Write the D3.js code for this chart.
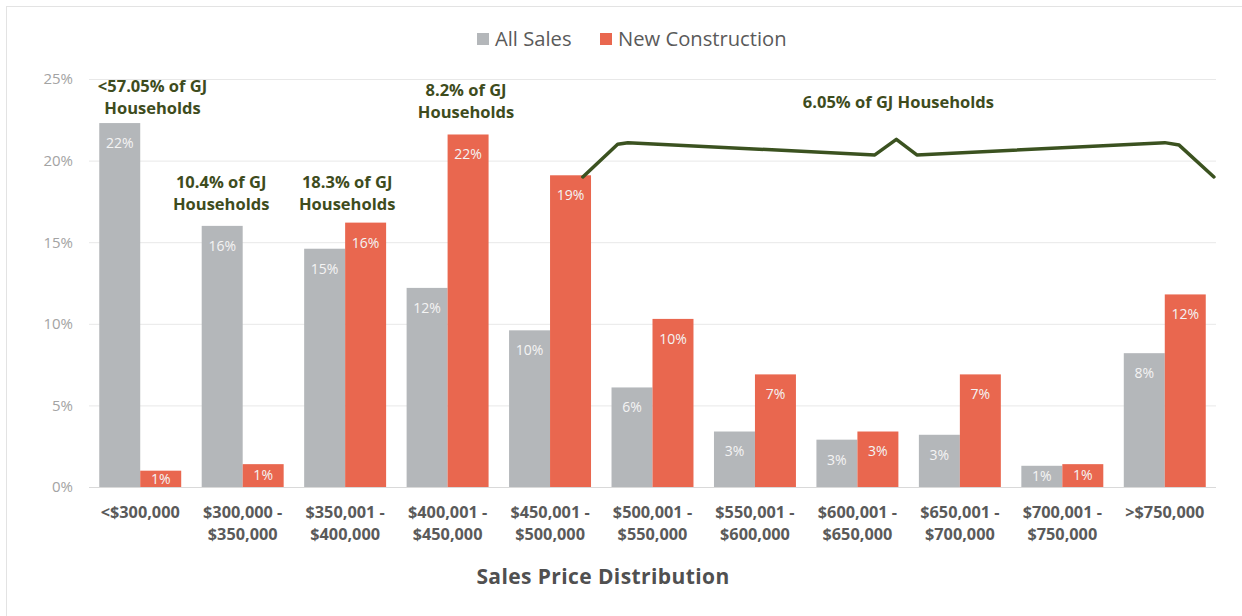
<!DOCTYPE html>
<html>
<head>
<meta charset="utf-8">
<script src="https://cdn.jsdelivr.net/npm/d3@7"></script>
<style>
  body { margin: 0; background: #fff; }
  svg text { font-family: "Open Sans", "Noto Sans", sans-serif; }
</style>
</head>
<body>
<svg id="chart" width="1242" height="616"></svg>
<script>
// data
const categories = ['<$300,000', '$300,000 - $350,000', '$350,001 - $400,000', '$400,001 - $450,000',
  '$450,001 - $500,000', '$500,001 - $550,000', '$550,001 - $600,000', '$600,001 - $650,000',
  '$650,001 - $700,000', '$700,001 - $750,000', '>$750,000'];
const catLines = [['<$300,000'], ['$300,000 -', '$350,000'], ['$350,001 -', '$400,000'], ['$400,001 -', '$450,000'],
  ['$450,001 -', '$500,000'], ['$500,001 -', '$550,000'], ['$550,001 -', '$600,000'], ['$600,001 -', '$650,000'],
  ['$650,001 -', '$700,000'], ['$700,001 -', '$750,000'], ['>$750,000']];
const allSales = [22.3, 16.0, 14.6, 12.2, 9.6, 6.1, 3.4, 2.9, 3.2, 1.3, 8.2];
const newConstruction = [1.0, 1.4, 16.2, 21.6, 19.1, 10.3, 6.9, 3.4, 6.9, 1.4, 11.8];
const seriesNames = ['All Sales', 'New Construction'];
const yTicks = [0, 5, 10, 15, 20, 25];

// annotations: text lines, anchored at (category index, percent)
const annoText = [['<57.05% of GJ', 'Households'], ['10.4% of GJ', 'Households'], ['18.3% of GJ', 'Households'],
  ['8.2% of GJ', 'Households'], ['6.05% of GJ Households']];
const annoCat = [0.12, 0.79, 2.02, 3.18, 7.40];
const annoPct = [24.6, 18.7, 18.7, 24.3, 23.6];

// bracket over the upper price ranges (category index, percent)
const bracketCat = [4.32, 4.66, 4.76, 7.17, 7.38, 7.58, 10.0, 10.14, 10.48];
const bracketPct = [19.0, 21.0, 21.1, 20.35, 21.3, 20.35, 21.1, 20.95, 19.0];

const colors = { 'All Sales': '#b4b7ba', 'New Construction': '#e9674f' };
const annoColor = '#3e4c1d';

const svg = d3.select('#chart');

// frame
svg.append('rect').attr('x', 6.5).attr('y', 6.5).attr('width', 1240).attr('height', 620)
  .attr('fill', 'none').attr('stroke', '#e3e3e3');

const x0 = d3.scaleBand().domain(categories).range([89, 1216]).paddingInner(0.2).paddingOuter(0.1);
const x1 = d3.scaleBand().domain(seriesNames).range([0, x0.bandwidth()]);
const y = d3.scaleLinear([0, 25], [487, 79]);
const catX = i => x0(categories[0]) + x0.bandwidth() / 2 + i * x0.step();

// gridlines
svg.append('g').attr('class', 'grid')
  .attr('transform', 'translate(89,0)')
  .call(d3.axisLeft(y).tickValues(yTicks).tickSize(-(1216 - 89)).tickFormat(''))
  .call(g => g.select('.domain').remove())
  .call(g => g.selectAll('line').attr('stroke', d => d === 0 ? '#d9d9d9' : '#e8e8e8'));

// y axis labels
svg.append('g').attr('class', 'y axis')
  .attr('transform', 'translate(89,0)')
  .call(d3.axisLeft(y).tickValues(yTicks).tickSize(0).tickPadding(16).tickFormat(d => d + '%'))
  .call(g => g.select('.domain').remove())
  .call(g => g.selectAll('text').attr('fill', '#a3a3a3').style('font-size', '15px'));

// bars
const rows = categories.map((c, i) => ({ cat: c, vals: [allSales[i], newConstruction[i]] }));
const groups = svg.append('g').attr('class', 'bars').selectAll('g').data(rows).join('g')
  .attr('transform', d => `translate(${x0(d.cat)},0)`);

const cells = groups.selectAll('g').data(d => d.vals.map((v, k) => ({ key: seriesNames[k], v }))).join('g');
cells.append('rect')
  .attr('x', d => x1(d.key)).attr('width', x1.bandwidth())
  .attr('y', d => y(d.v)).attr('height', d => y(0) - y(d.v))
  .attr('fill', d => colors[d.key]);
cells.append('text')
  .attr('x', d => x1(d.key) + x1.bandwidth() / 2)
  .attr('y', d => Math.min(y(d.v) + 20, (y(d.v) + y(0)) / 2))
  .attr('dy', '0.35em')
  .attr('text-anchor', 'middle')
  .attr('fill', '#f4f4f4')
  .style('font-size', '14px')
  .text(d => Math.round(d.v) + '%');

// x axis labels
const xAxis = svg.append('g').attr('class', 'x axis')
  .attr('transform', 'translate(0,487)')
  .call(d3.axisBottom(x0).tickSize(0).tickFormat(''))
  .call(g => g.select('.domain').remove());
xAxis.selectAll('.tick').append('text')
  .attr('text-anchor', 'middle')
  .attr('fill', '#5a5a5a')
  .style('font-size', '16.3px').style('font-weight', 700)
  .each(function (d) {
    const lines = catLines[categories.indexOf(d)];
    d3.select(this).selectAll('tspan').data(lines).join('tspan')
      .attr('x', 0).attr('y', (l, i) => 31 + i * 22).text(l => l);
  });

// axis title
svg.append('text').attr('x', 603).attr('y', 584).attr('text-anchor', 'middle')
  .attr('fill', '#505050').style('font-size', '21px').style('font-weight', 700)
  .style('letter-spacing', '0.4px')
  .text('Sales Price Distribution');

// legend
const legend = svg.append('g').attr('class', 'legend');
const legendX = [477, 600];
seriesNames.forEach((s, i) => {
  legend.append('rect').attr('x', legendX[i]).attr('y', 33).attr('width', 12).attr('height', 12).attr('fill', colors[s]);
  legend.append('text').attr('x', legendX[i] + 18).attr('y', 39).attr('dy', '0.35em')
    .attr('fill', '#5a5a5a').style('font-size', '20.2px').text(s);
});

// annotations
annoText.forEach((lines, i) => {
  const t = svg.append('text').attr('text-anchor', 'middle').attr('fill', annoColor)
    .style('font-size', '16.5px').style('font-weight', 700);
  t.selectAll('tspan').data(lines).join('tspan')
    .attr('x', catX(annoCat[i]))
    .attr('y', (l, k) => y(annoPct[i]) + 6 + k * 22)
    .text(l => l);
});

// bracket
const bracket = bracketCat.map((c, i) => [catX(c), y(bracketPct[i])]);
svg.append('path').datum(bracket)
  .attr('d', d3.line())
  .attr('fill', 'none').attr('stroke', '#3b5220').attr('stroke-width', 3.5)
  .attr('stroke-linejoin', 'round').attr('stroke-linecap', 'round');
</script>
</body>
</html>
